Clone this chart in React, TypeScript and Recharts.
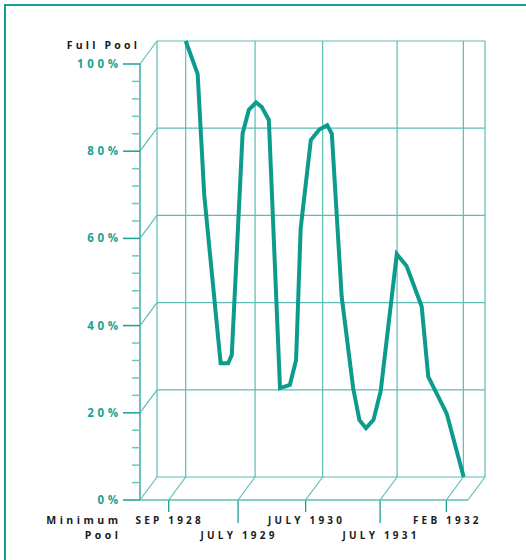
import React from 'react'
import { Line, LineChart, ReferenceLine, XAxis, YAxis } from 'recharts'

// position along the timeline, 0 = left wall, 100 = right wall
const timeline = [
  8.75, 12.4, 14.4, 19.4, 21.7, 22.8, 26.1, 28.0, 30.2, 31.9, 34.1, 37.5, 40.5, 42.4, 43.8, 46.9,
  49.5, 51.9, 53.3, 56.3, 59.8, 61.7, 63.7, 66.0, 68.2, 73.1, 76.1, 80.7, 82.7, 88.3, 93.5,
]
// reservoir level, % of full pool
const poolLevel = [
  100, 92.4, 64.7, 26.1, 26.1, 28.0, 78.8, 84.2, 85.9, 84.9, 81.9, 20.4, 21.1, 26.8, 57.0, 77.3,
  79.7, 80.7, 78.7, 41.4, 20.4, 13.1, 11.2, 13.1, 19.7, 51.1, 48.4, 39.1, 23.0, 14.6, 0,
]

const monthTicks = [8.75, 29.9, 50.5, 73.2, 93.4]
const monthLabels = ['SEP 1928', 'JULY 1929', 'JULY 1930', 'JULY 1931', 'FEB 1932']
const gridLevels = [0, 20, 40, 60, 80, 100]
const levelTicks = [0, 4, 8, 12, 16, 20, 24, 28, 32, 36, 40, 44, 48, 52, 56, 60, 64, 68, 72, 76, 80, 84, 88, 92, 96, 100]

const data = timeline.map((x, i) => ({ x, level: poolLevel[i] }))

const W = 526
const H = 560
const PLOT_W = 328
const PLOT_H = 436
// front face is offset from the back wall
const DX = -17
const DY = 23

const LINE = '#0c9b8d'
const AXIS = '#1a9f93'
const GRID = '#5cbdb4'
const MINOR = '#6cc6be'
const TEAL_TEXT = '#17a295'
const font = "'Open Sans', sans-serif"

const LevelTick = (props: any) => {
  const { x, y, payload } = props
  const v = payload.value
  const fx = x + DX
  const fy = y + DY
  const major = v % 20 === 0
  const step = (PLOT_H * 4) / 100
  return (
    <g>
      {v < 100 && <line x1={fx} y1={fy} x2={fx} y2={fy - step} stroke={AXIS} strokeWidth={1.3} />}
      <line
        x1={fx - (major ? 17 : 8)}
        y1={fy}
        x2={fx}
        y2={fy}
        stroke={major ? AXIS : MINOR}
        strokeWidth={1.5}
      />
      {major && <line x1={fx} y1={fy} x2={x} y2={y} stroke={GRID} strokeWidth={1.2} />}
      {major && (
        <text
          x={fx - 22 + 3.6}
          y={fy + 4}
          textAnchor="end"
          fill={TEAL_TEXT}
          fontFamily={font}
          fontWeight={700}
          fontSize={11.5}
          letterSpacing={3.6}
        >
          {v}%
        </text>
      )}
      {v === 100 && (
        <text x={x - 20 + 3.2} y={y + 7.5} textAnchor="end" fill="#1a1a1a" fontFamily={font} fontWeight={700} fontSize={10.5} letterSpacing={3.2}>
          Full Pool
        </text>
      )}
      {v === 0 && (
        <g>
          <line x1={fx} y1={fy} x2={fx + PLOT_W} y2={fy} stroke={GRID} strokeWidth={1.5} />
          <line x1={fx + PLOT_W} y1={fy} x2={x + PLOT_W} y2={y} stroke={GRID} strokeWidth={1.2} />
          <text x={fx - 22 + 3.5} y={fy + 24} textAnchor="end" fill="#1a1a1a" fontFamily={font} fontWeight={700} fontSize={10.5} letterSpacing={3.5}>
            Minimum
          </text>
          <text x={fx - 22 + 3.5} y={fy + 39} textAnchor="end" fill="#1a1a1a" fontFamily={font} fontWeight={700} fontSize={10.5} letterSpacing={3.5}>
            Pool
          </text>
        </g>
      )}
    </g>
  )
}

const MonthTick = (props: any) => {
  const { x, y, payload } = props
  const i = monthTicks.indexOf(payload.value)
  const fx = x + DX
  const fy = y + DY
  const low = i % 2 === 1
  return (
    <g>
      <line x1={x} y1={y} x2={fx} y2={fy} stroke={GRID} strokeWidth={1.2} />
      <line x1={fx} y1={fy} x2={fx} y2={fy + (low ? 23 : 12)} stroke={AXIS} strokeWidth={1.3} />
      <text
        x={fx + 1}
        y={fy + (low ? 39 : 24)}
        textAnchor="middle"
        fill="#1a1a1a"
        fontFamily={font}
        fontWeight={700}
        fontSize={10}
        letterSpacing={3.2}
      >
        {monthLabels[i]}
      </text>
    </g>
  )
}

export default function App() {
  return (
    <div style={{ position: 'absolute', left: 0, top: 0, width: W, height: H, overflow: 'hidden', background: '#fff' }}>
      <div
        style={{
          position: 'absolute',
          left: 4,
          top: 4,
          width: W + 40,
          height: H + 40,
          border: '2.5px solid #13a092',
          boxSizing: 'border-box',
        }}
      />
      <div style={{ position: 'absolute', left: 0, top: 0 }}>
        <LineChart width={W} height={H} data={data} margin={{ top: 41, right: 41, bottom: 0, left: 0 }}>
          {gridLevels.map(v => (
            <ReferenceLine key={'h' + v} y={v} stroke={GRID} strokeWidth={1.2} />
          ))}
          {[0, ...monthTicks, 100].map(v => (
            <ReferenceLine key={'v' + v} x={v} stroke={GRID} strokeWidth={1.2} />
          ))}
          <XAxis
            type="number"
            dataKey="x"
            domain={[0, 100]}
            ticks={monthTicks}
            interval={0}
            tick={MonthTick}
            tickLine={false}
            axisLine={false}
            tickSize={0}
            tickMargin={0}
            height={83}
          />
          <YAxis
            type="number"
            domain={[0, 100]}
            ticks={levelTicks}
            interval={0}
            tick={LevelTick}
            tickLine={false}
            axisLine={false}
            tickSize={0}
            tickMargin={0}
            width={157}
          />
          <Line
            type="linear"
            dataKey="level"
            stroke={LINE}
            strokeWidth={4}
            dot={false}
            activeDot={false}
            strokeLinejoin="miter"
            isAnimationActive={false}
          />
        </LineChart>
      </div>
    </div>
  )
}
